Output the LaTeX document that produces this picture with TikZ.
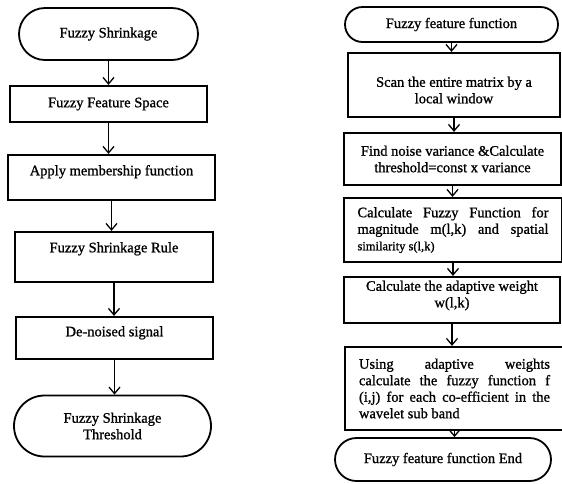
\documentclass[tikz,border=0pt]{standalone}
\usepackage{fontspec}
\setmainfont{Liberation Serif}[FakeBold=1]
\usetikzlibrary{arrows.meta,shapes.misc}

\tikzset{
  every node/.style={font=\fontsize{14.5}{16.5}\selectfont},
  terminal/.style={rounded rectangle, draw, line width=1.8pt, inner sep=2pt},
  procbox/.style={rectangle, draw, line width=2.2pt, inner sep=3pt},
  flow/.style={-{Straight Barb[length=6.5pt,width=11pt]}, line width=1.3pt},
}

\begin{document}
\begin{tikzpicture}[x=1pt,y=-1pt]
    \useasboundingbox (0,0) rectangle (562,483);

    \node[terminal, minimum width=183pt, minimum height=52pt] (shrink) at (108.5,34) {Fuzzy Shrinkage};
    \node[procbox, minimum width=197pt, minimum height=36pt] (space) at (108.5,104) {Fuzzy Feature Space};
    \node[procbox, minimum width=207pt, minimum height=45pt, text height=9.9pt, text depth=14.3pt] (member) at (111.5,177.5) {Apply membership function};
    \node[procbox, minimum width=198pt, minimum height=50pt, text height=9.9pt, text depth=19.3pt] (rule) at (114,257) {Fuzzy Shrinkage Rule};
    \node[procbox, minimum width=197pt, minimum height=42pt, text height=9.9pt, text depth=13.3pt] (denoise) at (114.5,338) {De-noised signal};
    \node[terminal, minimum width=201pt, minimum height=61pt, align=center] (thresh) at (112.5,426) {Fuzzy Shrinkage\\Threshold};

    \draw[flow] (shrink.south) -- (shrink.south |- space.north);
    \draw[flow] (space.south) -- (space.south |- member.north);
    \draw[flow] (member.south) -- (member.south |- rule.north);
    \draw[flow] (rule.south) -- (rule.south |- denoise.north);
    \draw[flow] (denoise.south) -- (denoise.south |- thresh.north);

    \node[terminal, minimum width=217pt, minimum height=35pt] (ffstart) at (451.5,24.5) {Fuzzy feature function};
    \node[procbox, minimum width=212pt, minimum height=64pt, align=center, text height=36.6pt, text depth=0pt] (scan) at (454,85) {Scan the entire matrix by a\\local window};
    \node[procbox, minimum width=217pt, minimum height=52pt, align=center] (noise) at (452.5,159) {Find noise variance \&Calculate\\threshold=const x variance};
    \node[procbox, minimum width=218pt, minimum height=64pt, text width=191pt, align=justify] (fuzzyfn) at (453,230) {Calculate Fuzzy Function for\linebreak magnitude m(l,k) and spatial\linebreak {\fontsize{12.5}{16}\selectfont similarity s(l,k)}};
    \node[procbox, minimum width=216pt, minimum height=46pt, align=center, text height=24pt, text depth=9.4pt] (weight) at (452,300) {Calculate the adaptive weight\\w(l,k)};
    \node[procbox, minimum width=219pt, minimum height=83pt, text width=191pt, align=justify] (using) at (454.5,388.5) {Using adaptive weights\linebreak calculate the fuzzy function f\linebreak (i,j) for each co-efficient in the\linebreak wavelet sub band};
    \node[terminal, minimum width=220pt, minimum height=43pt] (ffend) at (443,459.5) {Fuzzy feature function End};

    \draw[flow] (ffstart.south) -- (ffstart.south |- scan.north);
    \draw[flow] (scan.south) -- (scan.south |- noise.north);
    \draw[flow] (noise.south) -- (noise.south |- fuzzyfn.north);
    \draw[flow] (fuzzyfn.south) -- (fuzzyfn.south |- weight.north);
    \draw[flow] (weight.south) -- (weight.south |- using.north);
    \draw[flow] (using.south) -- (using.south |- ffend.north);
\end{tikzpicture}
\end{document}
